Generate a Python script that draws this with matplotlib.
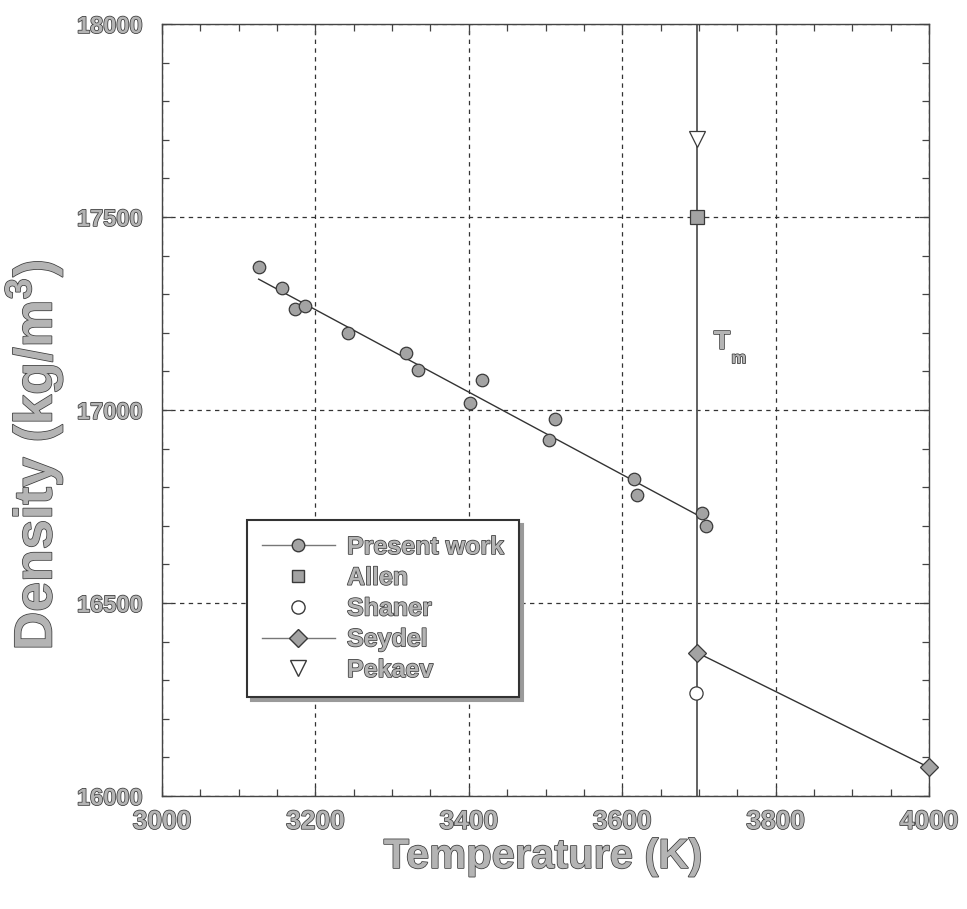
import matplotlib
matplotlib.use("Agg")
import matplotlib.pyplot as plt
import matplotlib.patheffects as pe
from matplotlib.lines import Line2D
from matplotlib.ticker import MultipleLocator

# Data
present_T = [3126, 3156, 3173, 3187, 3242, 3318, 3334, 3417, 3402, 3513, 3505, 3615, 3619, 3704, 3709]
present_rho = [17370, 17317, 17262, 17270, 17200, 17148, 17104, 17078, 17019, 16977, 16922, 16822, 16779, 16733, 16700]
fit_T = [3126, 3698]
fit_rho = [17339, 16728]
seydel_T = [3698, 4000]
seydel_rho = [16371, 16074]
allen_T, allen_rho = [3698], [17500]
shaner_T, shaner_rho = [3696], [16268]
pekaev_T, pekaev_rho = [3698], [17703]
T_melt = 3697

plt.rcParams['font.family'] = ['Liberation Sans', 'DejaVu Sans']
plt.rcParams['font.weight'] = 'bold'

txt_fx = [pe.withStroke(linewidth=1.1, foreground='#3c3c3c')]
txt_col = '#b4b4b4'
fill = '#a3a3a3'
edge = '#3a3a3a'

fig = plt.figure(figsize=(9.67, 9.09), dpi=100)
ax = fig.add_axes([162 / 967, 1 - 796 / 909, 767 / 967, 772 / 909])

ax.grid(True, which='major', ls=(0, (3.5, 3.5)), color='#333333', lw=0.9)
ax.set_axisbelow(True)

ax.axvline(T_melt, color='#555555', lw=1.3, zorder=2)
ax.plot(fit_T, fit_rho, color='#333333', lw=1.0, zorder=3)
ax.plot(seydel_T, seydel_rho, color='#333333', lw=1.0, zorder=3)

ax.plot(present_T, present_rho, 'o', ms=9, mfc=fill, mec=edge, mew=0.9, zorder=4)
ax.plot(allen_T, allen_rho, 's', ms=10, mfc=fill, mec=edge, mew=0.9, zorder=4)
ax.plot(shaner_T, shaner_rho, 'o', ms=9.5, mfc='white', mec=edge, mew=0.9, zorder=4)
ax.plot(seydel_T, seydel_rho, 'D', ms=9.5, mfc=fill, mec=edge, mew=0.9, zorder=4, clip_on=False)
ax.plot(pekaev_T, pekaev_rho, 'v', ms=11, mfc='white', mec=edge, mew=0.9, zorder=4)

ax.set_xlim(3000, 4000)
ax.set_ylim(16000, 18000)
ax.xaxis.set_major_locator(MultipleLocator(200))
ax.xaxis.set_minor_locator(MultipleLocator(50))
ax.yaxis.set_major_locator(MultipleLocator(500))
ax.yaxis.set_minor_locator(MultipleLocator(100))
ax.tick_params(which='both', direction='in', top=True, right=True, color='#444444', width=0.9)
ax.tick_params(which='major', length=7)
ax.tick_params(which='minor', length=5)
ax.tick_params(axis='x', pad=10)
ax.tick_params(axis='y', pad=14)
for lab in ax.get_xticklabels():
    lab.set_fontsize(19)
for lab in ax.get_yticklabels():
    lab.set_fontsize(17)
for lab in ax.get_xticklabels() + ax.get_yticklabels():
    lab.set_fontweight('bold')
    lab.set_color(txt_col)
    lab.set_path_effects(txt_fx)
for sp in ax.spines.values():
    sp.set_color('#444444')
    sp.set_linewidth(1.0)

ax.text(3730, 17176, 'T', fontsize=19, color=txt_col, path_effects=txt_fx, ha='center', va='center')
ax.text(3752, 17133, 'm', fontsize=12, color=txt_col, path_effects=txt_fx, ha='center', va='center')

fig.text(543 / 967, 1 - 857 / 909, 'Temperature (K)', fontsize=30, color=txt_col,
         path_effects=txt_fx, ha='center', va='center')
fig.text(34 / 967, 1 - 455 / 909, 'Density (kg/m$^\\mathregular{3}$)', fontsize=38.5, color=txt_col,
         path_effects=txt_fx, ha='center', va='center', rotation=90)

handles = [
    Line2D([], [], color='#777777', lw=1.0, marker='o', ms=9, mfc=fill, mec=edge),
    Line2D([], [], ls='none', marker='s', ms=9, mfc=fill, mec=edge),
    Line2D([], [], ls='none', marker='o', ms=9.5, mfc='white', mec=edge),
    Line2D([], [], color='#777777', lw=1.0, marker='D', ms=9, mfc=fill, mec=edge),
    Line2D([], [], ls='none', marker='v', ms=11, mfc='white', mec=edge),
]
labels = ['Present work', 'Allen', 'Shaner', 'Seydel', 'Pekaev']
leg = ax.legend(handles, labels, loc='upper left', bbox_to_anchor=(85 / 767, 276 / 772),
                borderaxespad=0, fontsize=18, numpoints=1, handlelength=2.9, handletextpad=0.5,
                labelspacing=0.27, borderpad=0.6, fancybox=False, framealpha=1,
                edgecolor='#333333', shadow={'ox': 3, 'oy': -3, 'color': '#9a9a9a', 'alpha': 1})
leg.get_frame().set_linewidth(1.5)
for t in leg.get_texts():
    t.set_color(txt_col)
    t.set_path_effects(txt_fx)
    t.set_fontweight('bold')

fig.savefig('out.png', dpi=100)
